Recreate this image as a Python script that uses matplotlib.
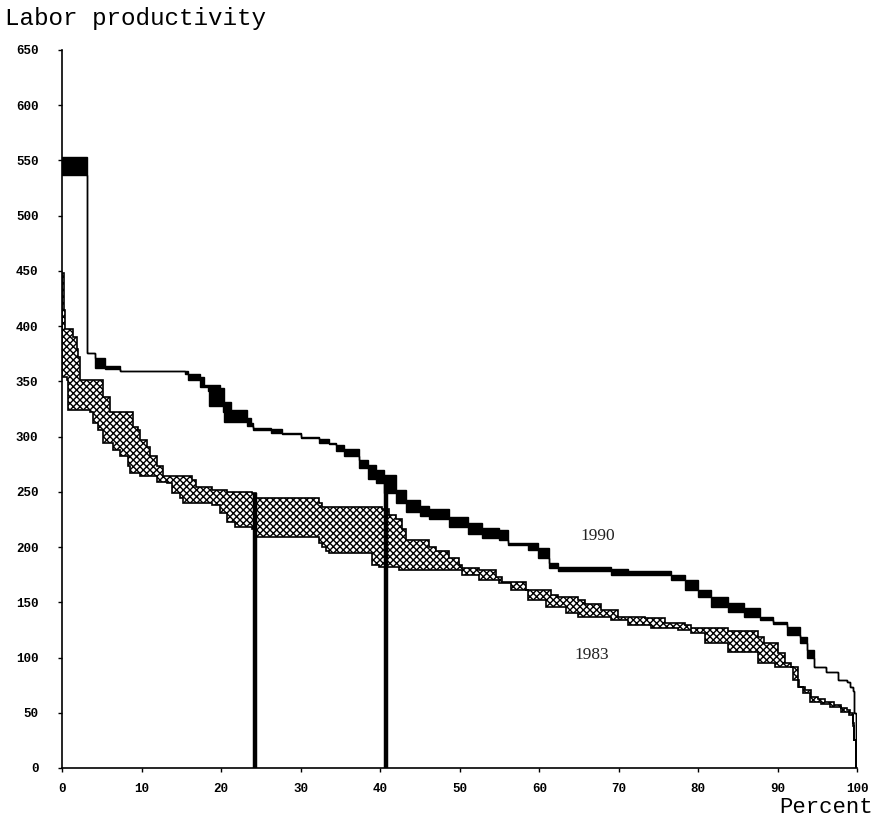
import numpy as np
import matplotlib
matplotlib.use('Agg')
import matplotlib.pyplot as plt

# Breakpoints (percent of employment) and step values (labor productivity)
x_up90 = [0, 3.15, 4.1, 5.4, 7.3, 15.4, 17.3, 17.9, 19.8, 20.4, 21.3, 23.2, 23.8, 24.0,
          26.3, 27.6, 30.0, 32.3, 33.6, 34.5, 35.5, 37.3, 38.5, 39.5, 40.5, 42.0, 43.2,
          45.0, 46.1, 48.6, 51.0, 52.8, 54.9, 56.1, 59.9, 61.2, 62.4, 69.0, 71.2, 76.6,
          78.3, 79.9, 81.6, 83.7, 85.8, 87.7, 89.4, 91.2, 92.8, 93.7, 94.5, 96.0, 97.5,
          98.7, 99.1, 99.4, 99.6, 99.8]
y_up90 = [553, 376, 371, 364, 359, 357, 354, 347, 344, 331, 324, 317, 312, 308,
          307, 303, 300, 298, 294, 292, 289, 279, 274, 270, 265, 252, 243,
          237, 234, 227, 222, 217, 215, 204, 199, 186, 182, 180, 178, 175,
          170, 161, 155, 149, 145, 137, 132, 128, 119, 107, 91, 87, 80,
          78, 73, 70, 50, 0]

x_lo90 = [0, 3.15, 4.1, 5.4, 7.3, 15.8, 17.3, 18.3, 18.5, 20.2, 20.4, 23.2, 24.0,
          26.3, 27.6, 30.0, 32.3, 33.6, 34.5, 35.5, 37.3, 38.5, 39.5, 40.5, 42.0, 43.2,
          45.0, 46.1, 48.6, 51.0, 52.8, 54.9, 56.1, 58.6, 59.9, 61.2, 62.4, 69.0, 76.6,
          78.3, 79.9, 81.6, 83.7, 85.8, 87.7, 89.4, 91.2, 92.8, 93.7, 94.5, 96.0, 97.5,
          98.7, 99.1, 99.4, 99.6, 99.8]
y_lo90 = [537, 376, 362, 361, 359, 351, 345, 341, 328, 322, 313, 310, 306,
          303, 302, 299, 294, 293, 287, 282, 272, 262, 258, 249, 240, 232,
          228, 225, 218, 212, 208, 206, 202, 197, 190, 181, 178, 175, 170,
          161, 155, 146, 141, 137, 134, 130, 120, 113, 100, 91, 87, 80,
          78, 73, 70, 50, 0]

x_up83 = [0, 0.2, 0.4, 1.4, 1.9, 2.0, 2.3, 5.1, 6.0, 8.9, 9.5, 9.8, 10.7, 11.0, 11.9,
          12.7, 16.4, 16.9, 18.9, 20.7, 23.9, 24.4, 32.3, 32.7, 40.2, 41.1, 42.0, 42.7,
          43.2, 46.1, 47.0, 48.6, 49.9, 50.3, 52.4, 54.5, 55.3, 58.3, 61.5, 62.4, 64.9,
          65.8, 67.8, 69.9, 73.3, 75.8, 78.3, 79.1, 83.7, 87.5, 88.3, 90.0, 90.9, 91.6,
          92.5, 92.7, 93.4, 94.1, 95.0, 95.9, 97.1, 97.9, 98.7, 99.1, 99.4, 99.6, 99.8]
y_up83 = [448, 415, 397, 390, 379, 372, 351, 336, 322, 309, 306, 297, 291, 282, 273,
          264, 261, 254.5, 252, 250, 249, 244.6, 240, 236, 234, 229, 225, 216,
          206.5, 200, 196, 190, 184, 181, 179, 173, 168, 161, 157, 155, 152,
          148, 143, 137, 136, 131, 129.5, 127, 124, 119, 113, 104, 95, 91.5,
          80, 73, 71, 64, 62, 60, 57, 54, 52.5, 50, 41, 25, 0]

x_lo83 = [0, 0.6, 0.75, 3.5, 3.9, 4.5, 5.1, 6.4, 7.3, 8.3, 8.5, 9.8, 11.9, 13.2, 13.8,
          14.8, 15.2, 18.9, 19.8, 20.7, 21.7, 23.9, 24.4, 32.3, 32.7, 33.2, 33.6, 39.0,
          39.8, 42.4, 50.3, 52.4, 54.9, 56.5, 58.6, 60.8, 63.3, 64.9, 69.0, 71.2, 74.1,
          77.4, 79.1, 80.8, 83.7, 87.5, 89.6, 91.2, 91.9, 92.5, 93.1, 94.0, 95.4, 96.6,
          97.9, 99.0, 99.4, 99.6, 99.8]
y_lo83 = [354, 351, 324, 322, 312, 306, 294, 288, 282, 273, 267, 264, 259, 258, 249,
          244.6, 240, 238, 231, 223, 218, 216, 209, 204, 200, 196, 195, 184,
          182, 179, 175, 170, 167.5, 161, 152, 146, 140, 137, 134, 129.5, 127,
          125, 122, 113, 105, 95, 91.5, 91, 80, 73, 68, 60, 58, 55,
          51, 48, 38, 25, 0]

medians = [24.2, 40.7]
median_tops = [249, 262]

x_ticks = list(range(0, 101, 10))
y_ticks = list(range(0, 651, 50))


def step_xy(x, y, xend=100):
    xe = np.append(np.asarray(x, float), xend)
    xs = np.repeat(xe, 2)[1:-1]
    ys = np.repeat(np.asarray(y, float), 2)
    return xs, ys


def band(xu, yu, xl, yl):
    ux, uy = step_xy(xu, yu)
    lx, ly = step_xy(xl, yl)
    return np.concatenate([ux, lx[::-1]]), np.concatenate([uy, ly[::-1]])


plt.rcParams['hatch.linewidth'] = 1.0
plt.rcParams['hatch.color'] = 'black'

fig = plt.figure(figsize=(8.77, 8.21), dpi=100)
ax = fig.add_axes([0.0707, 0.0646, 0.907, 0.8745])

bx, by = band(x_up90, y_up90, x_lo90, y_lo90)
ax.fill(bx, by, facecolor='black', edgecolor='black', linewidth=1.0, zorder=3)

hx, hy = band(x_up83, y_up83, x_lo83, y_lo83)
ax.fill(hx, hy, facecolor='white', edgecolor='black', hatch='xxxxx',
        linewidth=1.2, zorder=2)

for xm, ym in zip(medians, median_tops):
    ax.plot([xm, xm], [0, ym], color='black', linewidth=3.2, zorder=4,
            solid_capstyle='butt')

ax.text(67.3, 210, '1990', family='Liberation Serif', fontsize=12.5,
        ha='center', va='center', color='#222222')
ax.text(66.6, 102, '1983', family='Liberation Serif', fontsize=12.5,
        ha='center', va='center', color='#222222')

ax.set_xlim(0, 100)
ax.set_ylim(0, 650)
ax.set_xticks(x_ticks)
ax.set_yticks(y_ticks)
for s in ['top', 'right']:
    ax.spines[s].set_visible(False)
for s in ['left', 'bottom']:
    ax.spines[s].set_linewidth(1.2)
ax.tick_params(direction='out', length=3, width=1, pad=8)
for lab in ax.get_xticklabels() + ax.get_yticklabels():
    lab.set_fontfamily('Liberation Mono')
    lab.set_fontweight('bold')
    lab.set_fontsize(9)
ax.tick_params(axis='y', pad=14)

fig.text(0.006, 0.978, 'Labor productivity', family='Liberation Mono',
         fontsize=17.5, ha='left', va='center')
fig.text(0.995, 0.016, 'Percent', family='Liberation Mono',
         fontsize=16, ha='right', va='center')

fig.savefig('out.png', dpi=100)
